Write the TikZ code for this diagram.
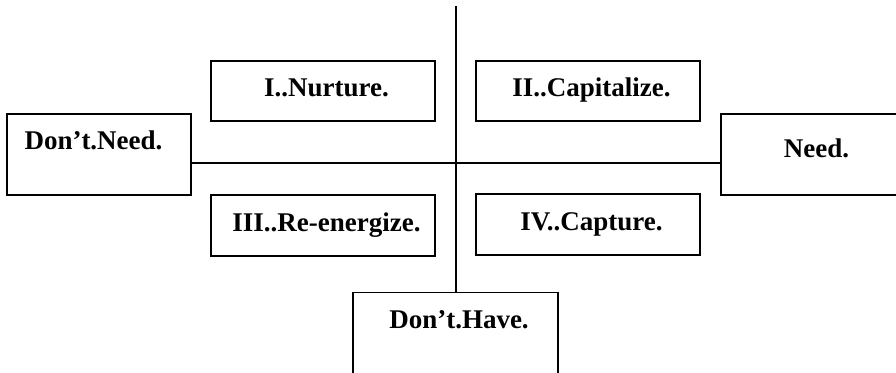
\documentclass[tikz,border=0pt]{standalone}
\usepackage{fontspec}
\setmainfont{Liberation Serif}
\begin{document}
\begin{tikzpicture}[x=1pt,y=-1pt,
  label box/.style={draw, line width=1.8pt, inner xsep=0pt, inner ysep=0pt,
    anchor=base, font=\fontsize{27}{30}\selectfont\bfseries},
  axis line/.style={line width=1.6pt}]
  \useasboundingbox (0,0) rectangle (896,372);

  % ends of the two axes
  \node[label box, minimum width=184pt, text height=35pt, text depth=46pt]
    (dneed) at (99,149) {Don’t.Need.\hspace*{11pt}};
  \node[label box, minimum width=184pt, text height=43pt, text depth=38pt]
    (need) at (813,157) {\hspace*{7pt}Need.};
  \node[label box, minimum width=205pt, text height=35.5pt, text depth=50pt]
    (dhave) at (455.5,328) {\hspace*{7pt}Don’t.Have.};

  % the four quadrants
  \node[label box, minimum width=224pt, text height=35.7pt, text depth=24.3pt]
    (q1) at (323,96.7) {\hspace*{7pt}I..Nurture.};
  \node[label box, minimum width=224pt, text height=35pt, text depth=25pt]
    (q2) at (588,96) {\hspace*{7pt}II..Capitalize.};
  \node[label box, minimum width=224pt, text height=36pt, text depth=25pt]
    (q3) at (323,231) {\hspace*{7pt}III..Re-energize.};
  \node[label box, minimum width=224pt, text height=36pt, text depth=25pt]
    (q4) at (588,230) {\hspace*{7pt}IV..Capture.};

  % axes
  \coordinate (axtop) at (456,6);
  \coordinate (axmid) at (456,162.7);
  \draw[axis line] (dneed.east |- axmid) -- (need.west |- axmid);
  \draw[axis line] (axtop) -- (axtop |- dhave.north);
\end{tikzpicture}
\end{document}
